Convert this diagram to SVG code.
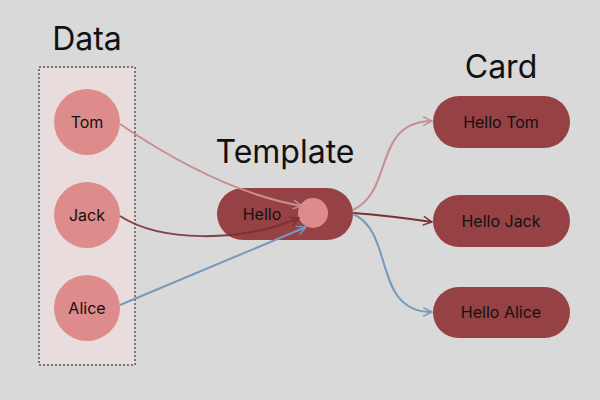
<svg xmlns="http://www.w3.org/2000/svg" width="600" height="400" viewBox="0 0 600 400">
<style>
.title{font-family:Inter,"Liberation Sans",sans-serif;font-size:32px;fill:#111;text-anchor:middle}
.lbl{font-family:Inter,"Liberation Sans",sans-serif;font-size:16px;fill:#111;text-anchor:middle;dominant-baseline:central}
.src{fill:#dd8b8b}
.pill{fill:#964144}
.edge{fill:none;stroke-width:2}
</style>
<defs>
<marker id="aT" viewBox="0 0 10 10" refX="9" refY="5" markerWidth="11" markerHeight="11" markerUnits="userSpaceOnUse" orient="auto"><path d="M1,1 L9,5 L1,9" fill="none" stroke="#c49090" stroke-width="1.3"/></marker>
<marker id="aJ" viewBox="0 0 10 10" refX="9" refY="5" markerWidth="11" markerHeight="11" markerUnits="userSpaceOnUse" orient="auto"><path d="M1,1 L9,5 L1,9" fill="none" stroke="#7a3035" stroke-width="1.3"/></marker>
<marker id="aA" viewBox="0 0 10 10" refX="9" refY="5" markerWidth="11" markerHeight="11" markerUnits="userSpaceOnUse" orient="auto"><path d="M1,1 L9,5 L1,9" fill="none" stroke="#7799bb" stroke-width="1.3"/></marker>
</defs>
<rect width="600" height="400" fill="#d9d9d9"/>
<text class="title" x="87" y="50">Data</text>
<text class="title" x="285" y="163">Template</text>
<text class="title" x="501" y="78">Card</text>
<g id="data-box"><rect x="39" y="67" width="96" height="298" fill="#e8dcdc" stroke="#111" stroke-width="1" stroke-dasharray="2,2"/></g>
<g id="tom"><circle class="src" cx="87" cy="122" r="33"/><text class="lbl" x="87" y="122">Tom</text></g>
<g id="jack"><circle class="src" cx="87" cy="215" r="33"/><text class="lbl" x="87" y="215">Jack</text></g>
<g id="alice"><circle class="src" cx="87" cy="308" r="33"/><text class="lbl" x="87" y="308">Alice</text></g>
<g id="template"><rect class="pill" x="217" y="188" width="136" height="52" rx="26"/><text class="lbl" x="262" y="214">Hello</text><circle cx="313" cy="213" r="15" fill="#dd8b8b"/></g>
<g id="card-tom"><rect class="pill" x="433" y="96" width="137" height="52" rx="26"/><text class="lbl" x="501" y="122">Hello Tom</text></g>
<g id="card-jack"><rect class="pill" x="433" y="195" width="137" height="52" rx="26"/><text class="lbl" x="501" y="221">Hello Jack</text></g>
<g id="card-alice"><rect class="pill" x="433" y="287" width="137" height="51" rx="25.5"/><text class="lbl" x="501" y="312">Hello Alice</text></g>
<g id="connectors">
<path class="edge" d="M120,124 C180,165 240,195 302,206" stroke="#c49090" marker-end="url(#aT)"/>
<path class="edge" d="M120,216 C160,242 240,243 299,218" stroke="#7a3035" stroke-opacity="0.9" marker-end="url(#aJ)"/>
<path class="edge" d="M120,305 L306,227" stroke="#7799bb" marker-end="url(#aA)"/>
<path class="edge" d="M353,210 C395,190 372,122 432,121" stroke="#c49090" marker-end="url(#aT)"/>
<path class="edge" d="M353,213 C380,215 405,218 432,222" stroke="#7a3035" marker-end="url(#aJ)"/>
<path class="edge" d="M353,214 C395,232 372,312 432,312" stroke="#7799bb" marker-end="url(#aA)"/>
</g>
</svg>
